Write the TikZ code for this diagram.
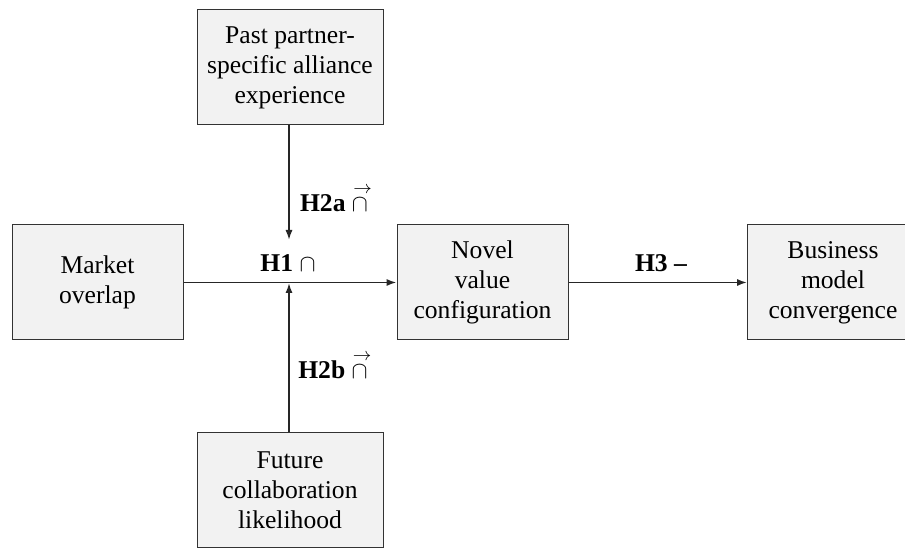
\documentclass[tikz,border=0pt]{standalone}
\usepackage{fontspec}
\setmainfont{Liberation Serif}
\usepackage{mathtools}
\usepackage{tikz}
\usetikzlibrary{arrows.meta,positioning}

\begin{document}
\begin{tikzpicture}[
  x=0.5pt, y=-0.5pt,
  font=\fontsize{12.8}{15}\selectfont,
  box/.style={draw=black!80, fill=gray!10, line width=0.5pt, align=center,
              inner sep=2pt, minimum width=85.5pt, minimum height=57.5pt},
  wide/.style={box, minimum width=93pt},
  link/.style={-{Latex[length=5pt, width=3.6pt]}, line width=0.9pt, black!85},
  hyp/.style={font=\fontsize{12.8}{15}\selectfont\bfseries, inner sep=0pt}]
\useasboundingbox (0,0) rectangle (905,549);
\node[wide] (past) at (290,67.5) {Past partner-\\specific alliance\\experience};
\node[box] (market) at (97.5,282.5) {Market\\overlap};
\node[box] (novel) at (482.5,282.5) {Novel\\value\\configuration};
\node[box] (business) at (833,282.5) {Business\\model\\convergence};
\node[wide] (future) at (290,490.5) {Future\\collaboration\\likelihood};
\coordinate (hub) at (289,283);
\coordinate (above hub) at (289,240);
\draw[link] (market) -- (novel);
\draw[link] (novel) -- (business);
\draw[link] (past.south -| hub) -- (above hub);
\draw[link] (future.north -| hub) -- (hub);
\node[hyp] (h1) at (288,263) {H1 $\cap$};
\node[hyp] (h2a) at (334,198) {H2a $\overset{\mathclap{\;\rightarrow}}{\cap}$};
\node[hyp] (h2b) at (333,365) {H2b $\overset{\mathclap{\;\rightarrow}}{\cap}$};
\node[hyp] (h3) at (661,263) {H3 --};
\end{tikzpicture}
\end{document}
